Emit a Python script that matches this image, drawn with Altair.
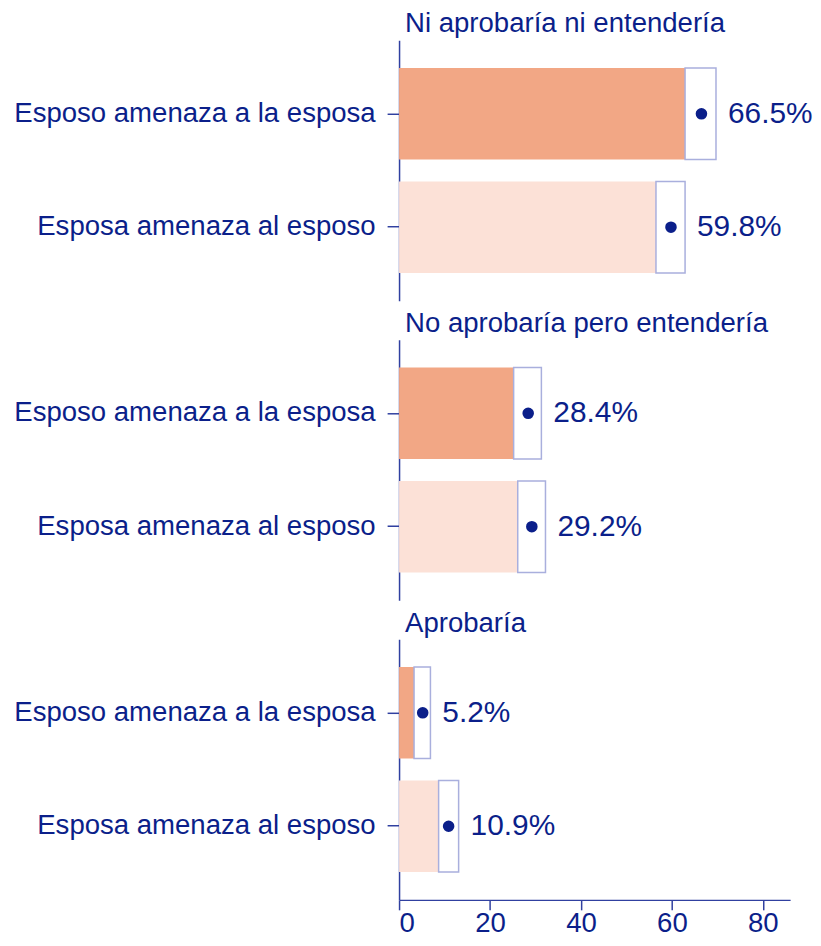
import altair as alt
import pandas as pd

groups = ["Ni aprobaría ni entendería", "No aprobaría pero entendería", "Aprobaría"]
items = ["Esposo amenaza a la esposa", "Esposa amenaza al esposo"]
estimate = [66.5, 59.8, 28.4, 29.2, 5.2, 10.9]
lower = [62.9, 56.5, 25.2, 26.1, 3.3, 8.7]
upper = [69.7, 62.9, 31.3, 32.2, 6.9, 13.1]
x_ticks = [0, 20, 40, 60, 80]

TEXT = "#0b1f8a"
AXIS = "#3040a0"
FONT = "Liberation Sans"
FS = 27.7
bar_colors = ["#f2a785", "#fce1d7"]

rows = []
i = 0
for g in groups:
    for it in items:
        rows.append({"group": g, "item": it, "estimate": estimate[i],
                     "lower": lower[i], "upper": upper[i],
                     "label": f"{estimate[i]:.1f}%"})
        i += 1
df = pd.DataFrame(rows)

xscale = alt.Scale(domain=[0, 86], nice=False, zero=True)
yscale = alt.Scale(paddingInner=0.193, paddingOuter=0.246)


def panel(g, last):
    d = df[df["group"] == g]
    if last:
        xaxis = alt.Axis(values=x_ticks, title=None, grid=False, labelFontSize=FS,
                         labelColor=TEXT, domainColor=AXIS, tickColor=AXIS,
                         domainWidth=1.5, tickWidth=1.5, tickSize=10, labelPadding=0,
                         labelFont=FONT)
    else:
        xaxis = None
    y = alt.Y("item:N", sort=items, title=None, scale=yscale,
              axis=alt.Axis(labelFontSize=FS, labelColor=TEXT, labelFont=FONT,
                            labelLimit=500, domainColor=AXIS, tickColor=AXIS,
                            domainWidth=1.5, tickWidth=1.5, tickSize=12,
                            labelPadding=12, grid=False))
    base = alt.Chart(d)
    fill = base.mark_bar().encode(
        x=alt.X("lower:Q", scale=xscale, axis=xaxis),
        y=y,
        color=alt.Color("item:N", scale=alt.Scale(domain=items, range=bar_colors), legend=None),
    )
    ci = base.mark_bar(fill="white", stroke="#a9afdd", strokeWidth=1.5).encode(
        x=alt.X("lower:Q", scale=xscale, axis=xaxis),
        x2="upper:Q",
        y=y,
    )
    dot = base.mark_circle(size=135, color=TEXT, opacity=1).encode(
        x=alt.X("estimate:Q", scale=xscale, axis=xaxis),
        y=y,
    )
    txt = base.mark_text(align="left", baseline="middle", dx=12, fontSize=30,
                         font=FONT, color=TEXT).encode(
        x=alt.X("upper:Q", scale=xscale, axis=xaxis),
        y=y,
        text="label:N",
    )
    return alt.layer(fill, ci, dot, txt).properties(
        width=393, height=262,
        title=alt.TitleParams(g, anchor="start", frame="group", fontSize=FS, font=FONT,
                              fontWeight="normal", color=TEXT, dx=6, offset=2),
    )


chart = alt.vconcat(
    panel(groups[0], False),
    panel(groups[1], False),
    panel(groups[2], True),
    spacing=9,
).properties(
    background="white",
    padding={"left": 5, "right": 0, "top": 0, "bottom": -3},
).configure_view(strokeWidth=0, stroke="transparent")

chart.save("out.html", embed_options={"renderer": "svg", "actions": False})
